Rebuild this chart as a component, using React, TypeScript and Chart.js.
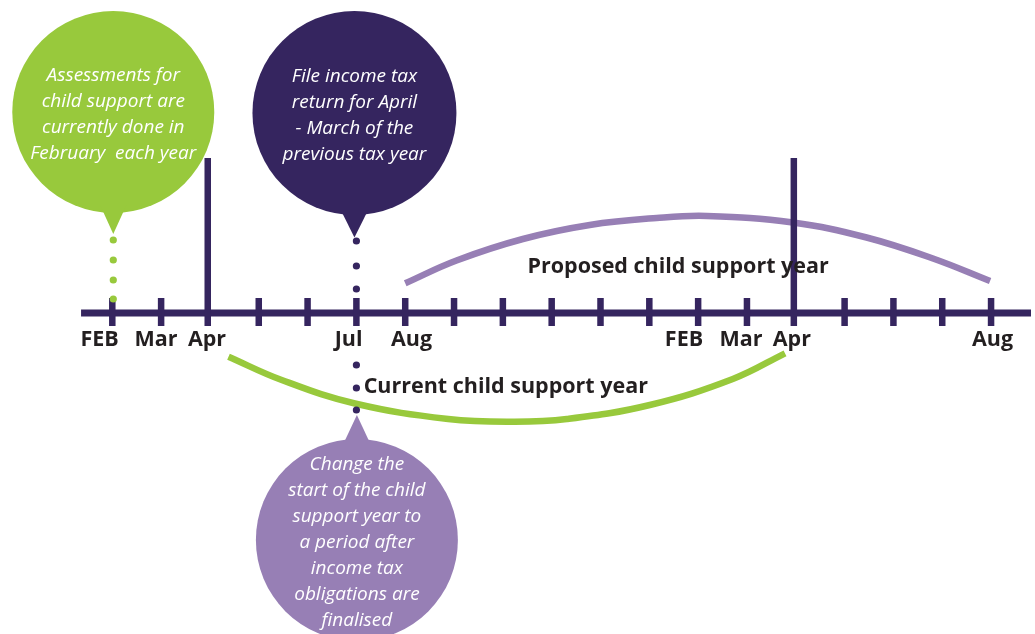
import React, { useEffect, useRef } from "react";
import { Chart, registerables } from "chart.js";

Chart.register(...registerables);

// ---- data (x = month index from first FEB, y = level above timeline) ----
const MONTH_TICKS = [0, 1, 3, 4, 5, 6, 7, 8, 9, 10, 11, 12, 13, 15, 16, 17, 18];
const APRIL_MARKERS = [1.955, 13.96];
const AXIS_START = -0.64;
const AXIS_END = 18.82;
const MONTH_LABELS = ["FEB", "Mar", "Apr", "Jul", "Aug", "FEB", "Mar", "Apr", "Aug"];
const MONTH_LABEL_AT = [-0.26, 0.895, 1.94, 4.84, 6.13, 11.71, 12.88, 13.92, 18.03];

const PROPOSED_X = [6.0, 7.05, 8.41, 9.78, 11.15, 12.18, 13.94, 15.45, 16.81, 17.98];
const PROPOSED_Y = [2.97, 5.25, 7.4, 8.8, 9.5, 9.7, 9.05, 7.55, 5.45, 3.2];
const CURRENT_X = [2.38, 3.47, 4.97, 6.88, 8.24, 9.31, 11.01, 12.71, 13.78];
const CURRENT_Y = [-4.37, -6.7, -9.05, -10.6, -10.87, -10.6, -9.2, -6.6, -4.03];

const FEB_DOT_MONTH = 0.02;
const FEB_DOT_LEVELS = [7.3, 5.3, 3.3, 1.4];
const JUL_DOT_MONTH = 5.0;
const JUL_DOT_LEVELS = [7.2, 4.7, 2.4, -5.2, -7.5, -9.7];

const ARC_TITLES = ["Proposed child support year", "Current child support year"];
const ARC_TITLE_AT = [
  [11.59, 4.05],
  [8.06, -8.0],
];

const GREEN_NOTE = ["Assessments for", "child support are", "currently done in", "February  each year"];
const NAVY_NOTE = ["File income tax", "return for April", "- March of the", "previous tax year"];
const PURPLE_NOTE = [
  "Change the",
  "start of the child",
  "support year to",
  "a period after",
  "income tax",
  "obligations are",
  "finalised",
];

// ---- styles / layout ----
const NAVY = "#35255f";
const GREEN = "#98c93c";
const LAVENDER = "#977fb5";
const INK = "#231f20";

const TICK_LOW = -1.3;
const TICK_HIGH = 1.5;
const APRIL_TOP = 15.5;

// pixel calibration of the value axes
const X_ORIGIN_PX = 112.3;
const PX_PER_MONTH = 48.82;
const Y_ORIGIN_PX = 313;
const PX_PER_LEVEL = 10;

type Callout = {
  month: number;
  level: number;
  radius: number; // in level units
  tip: number;
  base: number;
  half: number; // months
  color: string;
  lines: string[];
};

const CALLOUTS: Callout[] = [
  { month: 0.02, level: 20.1, radius: 10.1, tip: 7.9, base: 10.8, half: 0.27, color: GREEN, lines: GREEN_NOTE },
  { month: 4.96, level: 20.0, radius: 10.2, tip: 7.55, base: 10.0, half: 0.25, color: NAVY, lines: NAVY_NOTE },
  { month: 5.01, level: -22.7, radius: 10.1, tip: -10.2, base: -12.7, half: 0.24, color: LAVENDER, lines: PURPLE_NOTE },
];

const calloutPlugin = {
  id: "callouts",
  beforeDatasetsDraw(chart: any) {
    const { ctx, scales } = chart;
    const xs = scales.x;
    const ys = scales.y;
    ctx.save();
    for (const c of CALLOUTS) {
      const cx = xs.getPixelForValue(c.month);
      const cy = ys.getPixelForValue(c.level);
      const r = Math.abs(ys.getPixelForValue(0) - ys.getPixelForValue(c.radius));
      ctx.fillStyle = c.color;
      ctx.beginPath();
      ctx.arc(cx, cy, r, 0, Math.PI * 2);
      ctx.fill();
      ctx.beginPath();
      ctx.moveTo(xs.getPixelForValue(c.month - c.half), ys.getPixelForValue(c.base));
      ctx.lineTo(xs.getPixelForValue(c.month + c.half), ys.getPixelForValue(c.base));
      ctx.lineTo(xs.getPixelForValue(c.month), ys.getPixelForValue(c.tip));
      ctx.closePath();
      ctx.fill();
      ctx.fillStyle = "#ffffff";
      ctx.font = 'italic 19px "Open Sans"';
      ctx.textAlign = "center";
      ctx.textBaseline = "alphabetic";
      const n = c.lines.length;
      c.lines.forEach((t, i) => {
        ctx.fillText(t, cx, cy + (i - (n - 1) / 2) * 26 + 8);
      });
    }
    ctx.restore();
  },
};

const textPlugin = {
  id: "texts",
  afterDatasetsDraw(chart: any) {
    const { ctx, scales } = chart;
    const xs = scales.x;
    const ys = scales.y;
    ctx.save();
    ctx.fillStyle = INK;
    ctx.font = 'bold 21.5px "Open Sans"';
    ctx.textAlign = "center";
    ctx.textBaseline = "alphabetic";
    const labelBase = ys.getPixelForValue(0) + 33;
    MONTH_LABELS.forEach((t, i) => {
      ctx.fillText(t, xs.getPixelForValue(MONTH_LABEL_AT[i]), labelBase);
    });
    ARC_TITLES.forEach((t, i) => {
      const [m, l] = ARC_TITLE_AT[i];
      ctx.fillText(t, xs.getPixelForValue(m), ys.getPixelForValue(l));
    });
    ctx.restore();
  },
};

function segments(positions: number[], low: number, high: number) {
  const out: { x: number; y: number | null }[] = [];
  positions.forEach((p) => {
    out.push({ x: p, y: low });
    out.push({ x: p, y: high });
    out.push({ x: p, y: null });
  });
  return out;
}

export default function App() {
  const ref = useRef<HTMLCanvasElement | null>(null);

  useEffect(() => {
    document.body.style.margin = "0";
    const canvas = ref.current;
    if (!canvas) return;
    const lineBase = {
      type: "line" as const,
      pointRadius: 0,
      borderCapStyle: "butt" as const,
      fill: false,
      spanGaps: false,
    };
    const chart = new Chart(canvas, {
      type: "line",
      data: {
        datasets: [
          {
            ...lineBase,
            type: "scatter",
            label: "Jul dots",
            data: JUL_DOT_LEVELS.map((y) => ({ x: JUL_DOT_MONTH, y })),
            showLine: false,
            pointRadius: 3.6,
            pointBackgroundColor: NAVY,
            pointBorderWidth: 0,
            order: 0,
          },
          {
            ...lineBase,
            type: "scatter",
            label: "Feb dots",
            data: FEB_DOT_LEVELS.map((y) => ({ x: FEB_DOT_MONTH, y })),
            showLine: false,
            pointRadius: 3.6,
            pointBackgroundColor: GREEN,
            pointBorderWidth: 0,
            order: 1,
          },
          {
            ...lineBase,
            label: "April markers",
            data: segments(APRIL_MARKERS, TICK_LOW, APRIL_TOP),
            borderColor: NAVY,
            borderWidth: 6.5,
            order: 2,
          },
          {
            ...lineBase,
            label: "Month ticks",
            data: segments(MONTH_TICKS, TICK_LOW, TICK_HIGH),
            borderColor: NAVY,
            borderWidth: 6.5,
            order: 3,
          },
          {
            ...lineBase,
            label: "Timeline",
            data: [
              { x: AXIS_START, y: 0 },
              { x: AXIS_END, y: 0 },
            ],
            borderColor: NAVY,
            borderWidth: 7,
            order: 4,
          },
          {
            ...lineBase,
            label: "Proposed child support year",
            data: PROPOSED_X.map((x, i) => ({ x, y: PROPOSED_Y[i] })),
            borderColor: LAVENDER,
            borderWidth: 6.5,
            tension: 0.4,
            order: 5,
          },
          {
            ...lineBase,
            label: "Current child support year",
            data: CURRENT_X.map((x, i) => ({ x, y: CURRENT_Y[i] })),
            borderColor: GREEN,
            borderWidth: 6.5,
            tension: 0.4,
            order: 6,
          },
        ] as any,
      },
      options: {
        responsive: false,
        animation: false,
        events: [],
        layout: { padding: 0 },
        plugins: {
          legend: { display: false },
          tooltip: { enabled: false },
        },
        scales: {
          x: { type: "linear", min: -2.3, max: 18.9, display: false },
          y: { type: "linear", min: -32.1, max: 31.3, display: false },
        },
      },
      plugins: [calloutPlugin, textPlugin],
    });
    // calibrate ranges to the actual chart area
    const a = chart.chartArea;
    const opts: any = chart.options.scales;
    opts.x.min = (a.left - X_ORIGIN_PX) / PX_PER_MONTH;
    opts.x.max = (a.right - X_ORIGIN_PX) / PX_PER_MONTH;
    opts.y.max = (Y_ORIGIN_PX - a.top) / PX_PER_LEVEL;
    opts.y.min = (Y_ORIGIN_PX - a.bottom) / PX_PER_LEVEL;
    chart.update();
    return () => chart.destroy();
  }, []);

  return (
    <div style={{ width: 1035, height: 634, background: "#ffffff" }}>
      <canvas ref={ref} width={1035} height={634} style={{ display: "block" }} />
    </div>
  );
}
